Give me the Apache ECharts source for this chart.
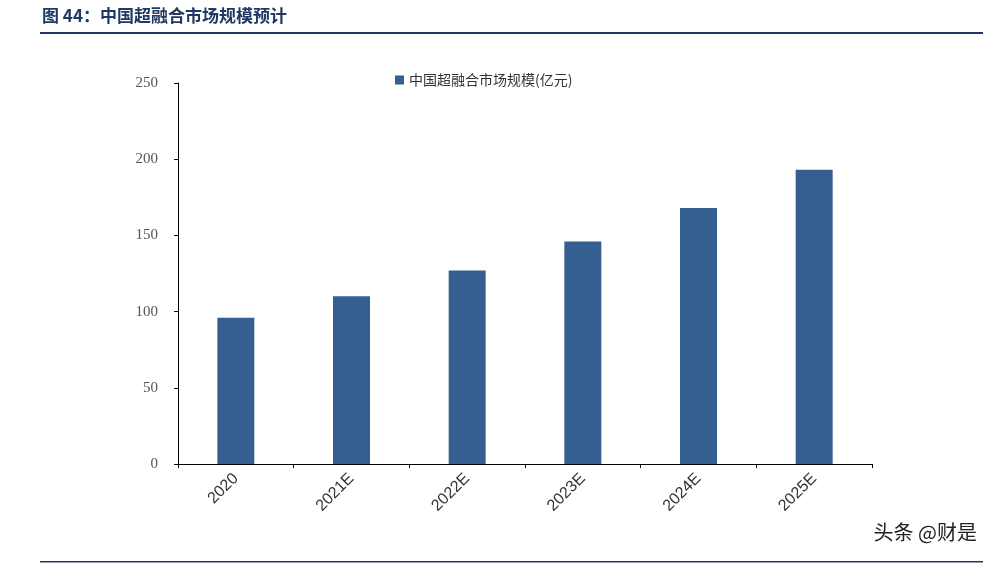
<!DOCTYPE html>
<html><head><meta charset="utf-8">
<script src="https://cdn.jsdelivr.net/npm/echarts@6/dist/echarts.min.js"></script>
<style>html,body{margin:0;padding:0;background:#fff}#c{width:995px;height:565px}</style>
</head><body><div id="c"></div>
<script>
const categories = ['2020','2021E','2022E','2023E','2024E','2025E'];
const values = [96,110,127,146,168,193];
const seriesName = '中国超融合市场规模(亿元)';
const chart = echarts.init(document.getElementById('c'));
chart.setOption({
  animation:false,
  graphic:[
    {type:'text',left:42,top:7,style:{text:'图 44：中国超融合市场规模预计',font:'bold 17px "Noto Sans CJK SC"',fill:'#1f3864'}},
    {type:'rect',shape:{x:40,y:32,width:943,height:2},style:{fill:'#1f3864'}},
    {type:'rect',shape:{x:40,y:561,width:943,height:1.5},style:{fill:'#1f3864'}},
    {type:'text',right:18,top:522,style:{text:'头条 @财是',font:'20px "Noto Sans CJK SC"',fill:'#222'}}
  ],
  legend:{top:68,left:390,itemWidth:9,itemHeight:9,icon:'rect',
    textStyle:{fontFamily:'Noto Sans CJK SC',fontSize:14,color:'#333'},data:[seriesName]},
  grid:{left:178,right:123,top:83,bottom:101},
  xAxis:{type:'category',data:categories,
    axisLine:{lineStyle:{color:'#000'}},axisTick:{show:true,length:4,lineStyle:{color:'#000'}},
    axisLabel:{rotate:45,margin:12,fontFamily:'Liberation Sans',fontSize:16,color:'#333'}},
  yAxis:{type:'value',min:0,max:250,interval:50,splitLine:{show:false},
    axisLine:{show:true,lineStyle:{color:'#000'}},axisTick:{show:true,length:4,lineStyle:{color:'#000'}},
    axisLabel:{fontFamily:'Liberation Serif',fontSize:15,color:'#555',margin:20}},
  series:[{name:seriesName,type:'bar',data:values,barWidth:37,itemStyle:{color:'#365f91'}}]
});
</script></body></html>
